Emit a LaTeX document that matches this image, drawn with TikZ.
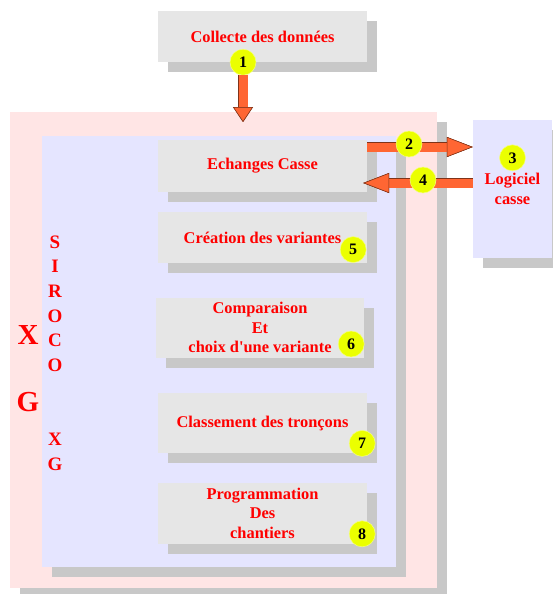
\documentclass[tikz,border=0pt]{standalone}
\usepackage{fontspec}
\setmainfont{Liberation Serif}[Ligatures=TeXOff]
\usetikzlibrary{arrows.meta,positioning,shadows}
\definecolor{frame_pink}{HTML}{FFE5E5}
\definecolor{frame_blue}{HTML}{E5E5FF}
\definecolor{box_grey}{HTML}{E6E6E6}
\definecolor{shadow_grey}{HTML}{C8C8C8}
\definecolor{step_yellow}{HTML}{EBFF00}
\definecolor{arrow_orange}{HTML}{FF6633}
\definecolor{arrow_dark}{HTML}{7F3319}

\begin{document}
\begin{tikzpicture}[
	    x=1pt, y=-1pt,
	    shadowed/.style={drop shadow={shadow xshift=10pt, shadow yshift=-10pt, fill=shadow_grey, opacity=1}},
	    steptext/.style={align=center, text=red, font=\fontsize{16.4}{19.5}\selectfont\bfseries},
	    stepbox/.style={rectangle, fill=box_grey, shadowed, minimum width=209pt, inner sep=2pt, steptext},
	    framebox/.style={rectangle, shadowed, inner sep=0pt},
	    number/.style={circle, fill=step_yellow, draw=step_yellow!50!white, line width=0.5pt, minimum size=26pt, inner sep=0pt, font=\fontsize{16}{16}\selectfont\bfseries},
	    fatarrow/.style={line width=9pt, draw=arrow_orange,
	        -{Triangle[width=20pt, length=#1, fill=arrow_orange, color=arrow_dark, line width=0.5pt]},
	        preaction={draw=arrow_dark, line width=10pt, -{Triangle[width=20pt, length=#1, line width=0.5pt]}}},
	    fatarrow/.default=15pt,
	]
		\useasboundingbox (0,0) rectangle (553,594);

		\node[stepbox, minimum height=51pt] (collecte) at (262.5,36.5) {Collecte des données};

		\node[framebox, fill=frame_pink, minimum width=427pt, minimum height=476pt] (xgframe) at (223.5,350) {};
		\node[framebox, fill=frame_blue, minimum width=354pt, minimum height=431pt] (sirocoframe) at (219,351.5) {};

		\node[stepbox, minimum height=52pt] (echanges) at (262.5,166) {Echanges Casse};
		\node[stepbox, minimum height=51pt, below=20pt of echanges] (creation) {Création des variantes};
		\node[stepbox, minimum width=208pt, minimum height=60pt, below=34pt of creation, xshift=-2.5pt] (comparaison) {Comparaison\\Et\\choix d'une variante};
		\node[stepbox, minimum height=60pt, below=35pt of comparaison, xshift=2.5pt] (classement) {Classement des tronçons};
		\node[stepbox, minimum height=61pt, below=29pt of classement] (programmation) {Programmation\\Des\\chantiers};

		\node[framebox, fill=frame_blue, minimum width=79pt, minimum height=138pt, steptext] (logiciel) at (512.5,189) {Logiciel\\casse};

		\node[text=red, align=center, font=\fontsize{19}{24.7}\selectfont\bfseries] (siroco) at (55,353) {S\\I\\R\\O\\C\\O\\~\\~\\X\\G};
		\node[text=red, align=center, font=\fontsize{29}{67}\selectfont\bfseries] (xg) at (28,368.5) {X\\G};

		\coordinate (entry) at (243,122);
		\coordinate (out2) at ([yshift=19pt]echanges.east);
		\coordinate (in4) at ([xshift=-4pt, yshift=-17pt]echanges.east);

		\node[number] (num1) at ([xshift=-19.5pt]collecte.south) {1};

		\draw [fatarrow] (num1.south) -- (entry);
		\draw [fatarrow=26pt] (out2) -- (out2 -| logiciel.west);
		\draw [fatarrow=26pt] (in4 -| logiciel.west) -- (in4);

		\node[number] (num2) at (409,144) {2};
		\node[number] (num3) at ([yshift=-38pt]logiciel.north) {3};
		\node[number] (num4) at (423,180) {4};
		\node[number] (num5) at ([xshift=-14pt, yshift=14pt]creation.south east) {5};
		\node[number] (num6) at ([xshift=-13pt, yshift=14pt]comparaison.south east) {6};
		\node[number] (num7) at ([xshift=-5pt, yshift=10pt]classement.south east) {7};
		\node[number] (num8) at ([xshift=-5pt, yshift=10pt]programmation.south east) {8};
	\end{tikzpicture}
\end{document}
